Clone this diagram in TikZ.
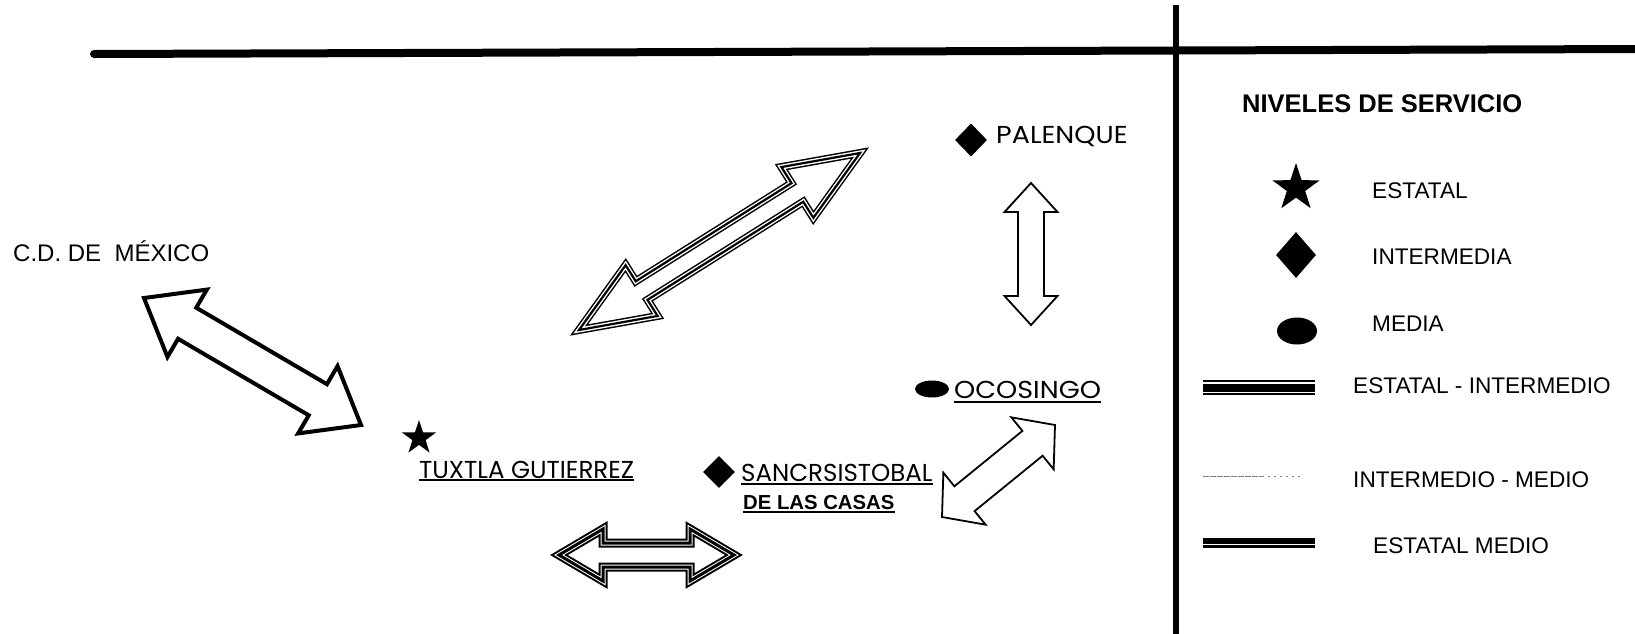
\documentclass[tikz,border=0pt]{standalone}
\usepackage{fontspec}
\setmainfont{Liberation Sans}
\newfontfamily\gothic{Poppins}
\usetikzlibrary{calc,shapes.geometric}
\newcommand\twoheads[6]{%
  \coordinate (hp1) at ($(#2)!#4!(#3)$);
  \coordinate (hp2) at ($(#3)!#4!(#2)$);
  \draw[#1] (#2) -- ($(hp1)!#6!90:(#3)$) -- ($(hp1)!#5!90:(#3)$)
    -- ($(hp2)!#5!-90:(#2)$) -- ($(hp2)!#6!-90:(#2)$) -- (#3)
    -- ($(hp2)!#6!90:(#2)$) -- ($(hp2)!#5!90:(#2)$)
    -- ($(hp1)!#5!-90:(#3)$) -- ($(hp1)!#6!-90:(#3)$) -- cycle;}
\tikzset{
  triplearrow/.style={draw=black, fill=white, line width=8pt, line join=miter,
    postaction={draw=white, line width=5pt, line join=miter},
    postaction={draw=black, line width=2.2pt, line join=miter}},
  heavytriple/.style={draw=black, fill=white, line width=9pt, line join=miter,
    postaction={draw=white, line width=5pt, line join=miter},
    postaction={draw=black, line width=3pt, line join=miter}},
  thinarrow/.style={draw=black, fill=white, line width=1.8pt, line join=miter},
  thickarrow/.style={draw=black, fill=white, line width=4pt, line join=miter},
  mapl/.style={anchor=base west, inner sep=0, font=\gothic\fontsize{24.5}{28}\selectfont},
  legl/.style={anchor=base west, inner sep=0, font=\fontsize{22.6}{27}\selectfont},
  dia/.style={diamond, fill=black, inner sep=0},
  blackstar/.style={star, star points=5, star point ratio=2.6, fill=black, inner sep=0},
  blackoval/.style={ellipse, fill=black, inner sep=0},
  uline/.style={line width=1.8pt}
}
\begin{document}
\begin{tikzpicture}[x=1pt,y=-1pt]
\useasboundingbox (0,0) rectangle (1635,633);
% frame lines
\coordinate (hl1) at (94,54); \coordinate (hl2) at (1640,49);
\draw[line width=8pt, line cap=round] (hl1) -- (hl2);
\coordinate (vl1) at (1176,5); \coordinate (vl2) at (1176,640);
\draw[line width=6pt] (vl1) -- (vl2);

% places
\node[anchor=base west, inner sep=0, font=\fontsize{24}{28}\selectfont] (mex) at (13,261) {C.D. DE\ \ MÉXICO};

\node[blackstar, minimum size=36pt] (tuxs) at (419,438) {};
\node[mapl] (tux) at (419,478) {TUXTLA GUTIERREZ};
\draw[uline] ([yshift=-2pt]tux.base west) -- ([yshift=-2pt]tux.base east);

\node[dia, minimum width=32pt, minimum height=32pt] (scd) at (719,472) {};
\node[mapl] (sc) at (741,481) {SANCRSISTOBAL};
\draw[uline] ([yshift=-3pt]sc.base west) -- ([yshift=-3pt]sc.base east);
\node[anchor=base west, inner sep=0, font=\bfseries\fontsize{20.3}{24}\selectfont] (sc2) at (743,509) {DE LAS CASAS};
\draw[line width=2.2pt] ([yshift=-3pt]sc2.base west) -- ([yshift=-3pt]sc2.base east);

\node[dia, minimum width=32pt, minimum height=33pt] (pald) at (971,140) {};
\node[mapl, xscale=1.1] (pal) at (996,143) {PALENQUE};

\node[blackoval, minimum width=34pt, minimum height=17pt] (ocod) at (932,389) {};
\node[mapl, xscale=1.1] (oco) at (954,398) {OCOSINGO};
\draw[uline] ([yshift=-4pt]oco.base west) -- ([yshift=-4pt]oco.base east);

% arrows
\coordinate (a1s) at (144,298); \coordinate (a1e) at (361,425);
\twoheads{thickarrow}{a1s}{a1e}{50pt}{18pt}{39pt}
\coordinate (a2s) at (579,330); \coordinate (a2e) at (860,153);
\twoheads{triplearrow}{a2s}{a2e}{74pt}{11pt}{30pt}
\coordinate (a3s) at (1031,183); \coordinate (a3e) at (1031,325);
\twoheads{thinarrow}{a3s}{a3e}{29pt}{13pt}{26.5pt}
\coordinate (a4s) at (942,517); \coordinate (a4e) at (1055,425);
\twoheads{thinarrow}{a4s}{a4e}{29pt}{16pt}{33.5pt}
\coordinate (a5s) at (559,555); \coordinate (a5e) at (734,555);
\twoheads{heavytriple}{a5s}{a5e}{44pt}{12pt}{26pt}

% legend
\node[anchor=base west, inner sep=0, font=\bfseries\fontsize{25.5}{30}\selectfont] (ltitle) at (1242,112) {NIVELES DE SERVICIO};
\node[blackstar, minimum size=50pt] (lstar) at (1296,188) {};
\node[legl] (lest) at (1372,198) {ESTATAL};
\node[dia, minimum width=40pt, minimum height=46pt] (ldia) at (1296,255) {};
\node[legl] (lint) at (1372,264) {INTERMEDIA};
\node[blackoval, minimum width=40pt, minimum height=27pt] (lova) at (1297,331) {};
\node[legl] (lmed) at (1372,331) {MEDIA};

\draw[line width=15pt] (1203,387.5) -- (1315,387.5);
\draw[white, line width=1.2pt] (1203,383) -- (1315,383);
\draw[white, line width=1pt] (1203,392.3) -- (1315,392.3);
\node[legl] (lei) at (1353,393) {ESTATAL - INTERMEDIO};

\draw[gray, line width=0.9pt, dash pattern=on 6pt off 1pt] (1203,476) -- (1262,476);
\draw[gray, line width=0.9pt, dash pattern=on 2pt off 4pt] (1262,476) -- (1303,476);
\node[legl] (lim) at (1353,487) {INTERMEDIO - MEDIO};

\draw[line width=10pt] (1203,543) -- (1315,543);
\draw[white, line width=1.2pt] (1203,544.5) -- (1315,544.5);
\node[legl] (lem) at (1373,553) {ESTATAL MEDIO};
\end{tikzpicture}
\end{document}
